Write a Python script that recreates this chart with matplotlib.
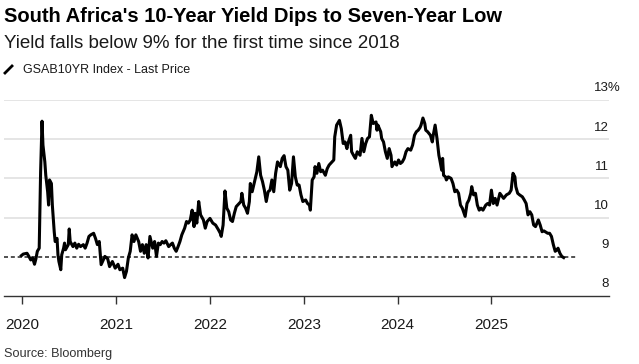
import matplotlib
matplotlib.use("Agg")
import matplotlib.pyplot as plt
from matplotlib.lines import Line2D

# ===============================
# DATA (decimal years)
# ===============================
years = [
    2019.99, 2020.01, 2020.05, 2020.07, 2020.09, 2020.11, 2020.13, 2020.145, 2020.16, 2020.18,
    2020.195, 2020.21, 2020.22, 2020.24, 2020.25, 2020.27, 2020.28, 2020.29, 2020.31, 2020.32,
    2020.34, 2020.35, 2020.37, 2020.38, 2020.39, 2020.41, 2020.42, 2020.44, 2020.45, 2020.46,
    2020.49, 2020.50, 2020.51, 2020.54, 2020.56, 2020.58, 2020.60, 2020.62, 2020.65, 2020.67,
    2020.69, 2020.71, 2020.73, 2020.76, 2020.78, 2020.80, 2020.82, 2020.84,
    2020.88, 2020.91, 2020.93, 2020.96, 2020.99, 2021.02, 2021.04, 2021.07, 2021.09, 2021.11,
    2021.13, 2021.15, 2021.17, 2021.19, 2021.21, 2021.24, 2021.26, 2021.28, 2021.30, 2021.32,
    2021.34, 2021.36, 2021.39, 2021.41, 2021.43, 2021.45, 2021.47, 2021.49, 2021.51, 2021.53,
    2021.56, 2021.58, 2021.60, 2021.62, 2021.64, 2021.66, 2021.68, 2021.70, 2021.73, 2021.75,
    2021.77, 2021.79, 2021.81, 2021.83, 2021.84, 2021.86, 2021.88, 2021.90, 2021.93, 2021.95,
    2021.97,
    2022.00, 2022.03, 2022.06, 2022.09, 2022.11, 2022.12, 2022.14, 2022.16, 2022.18, 2022.20,
    2022.22, 2022.24, 2022.26, 2022.28, 2022.31, 2022.33, 2022.34, 2022.36, 2022.38, 2022.40,
    2022.42, 2022.43, 2022.45, 2022.48, 2022.50, 2022.52, 2022.54, 2022.56, 2022.58, 2022.60,
    2022.62, 2022.64, 2022.66, 2022.68, 2022.70, 2022.72, 2022.75, 2022.77, 2022.79, 2022.81,
    2022.83, 2022.85, 2022.87, 2022.89, 2022.91, 2022.93, 2022.95, 2022.97, 2022.99, 2023.02,
    2023.04, 2023.06, 2023.07, 2023.09, 2023.11,
    2023.12, 2023.14, 2023.16, 2023.18, 2023.20, 2023.23, 2023.25, 2023.27, 2023.30, 2023.32,
    2023.33, 2023.35, 2023.38, 2023.40, 2023.42, 2023.44, 2023.46, 2023.47, 2023.50, 2023.51,
    2023.53, 2023.55, 2023.57, 2023.60, 2023.62, 2023.64, 2023.66, 2023.68, 2023.70, 2023.72,
    2023.74, 2023.77, 2023.78, 2023.79, 2023.82, 2023.83, 2023.85, 2023.87, 2023.89, 2023.91,
    2023.93, 2023.94, 2023.97, 2023.99, 2024.01, 2024.03, 2024.05, 2024.07, 2024.09, 2024.11,
    2024.14, 2024.16, 2024.18, 2024.20, 2024.22,
    2024.24, 2024.25, 2024.27, 2024.29, 2024.30, 2024.32, 2024.35, 2024.37, 2024.38, 2024.40,
    2024.41, 2024.42, 2024.44, 2024.45, 2024.47, 2024.48, 2024.49, 2024.51, 2024.52, 2024.54,
    2024.57, 2024.59, 2024.61, 2024.63, 2024.65, 2024.67, 2024.69, 2024.72, 2024.74, 2024.76,
    2024.78, 2024.79, 2024.81, 2024.83, 2024.85, 2024.87, 2024.89, 2024.91, 2024.94, 2024.96,
    2024.98, 2025.00, 2025.02, 2025.04, 2025.06,
    2025.09, 2025.13, 2025.16, 2025.19, 2025.21, 2025.23, 2025.25, 2025.26, 2025.28, 2025.30,
    2025.33, 2025.35, 2025.37, 2025.39, 2025.41, 2025.43, 2025.45, 2025.47, 2025.50, 2025.52,
    2025.54, 2025.56, 2025.58, 2025.60, 2025.62, 2025.64, 2025.66, 2025.68, 2025.70, 2025.71,
    2025.73, 2025.74, 2025.75, 2025.77,
]

yields = [
    9.03, 9.07, 9.09, 9.01, 8.92, 8.97, 8.81, 8.95, 9.14, 9.22,
    11.17, 12.46, 11.85, 11.42, 11.08, 10.66, 10.32, 10.96, 10.87, 10.32,
    9.64, 9.39, 9.47, 9.05, 8.88, 8.67, 9.05, 9.22, 9.35, 9.18,
    9.31, 9.71, 9.39, 9.26, 9.35, 9.22, 9.32, 9.26, 9.31, 9.22,
    9.35, 9.52, 9.56, 9.60, 9.47, 9.31, 9.39, 8.80,
    9.01, 8.95, 8.75, 8.88, 8.71, 8.81, 8.67, 8.71, 8.47, 8.63,
    8.97, 9.14, 9.56, 9.39, 9.56, 9.39, 9.14, 9.31, 9.09, 9.31,
    8.97, 9.52, 9.22, 9.39, 9.01, 9.35, 9.31, 9.39, 9.35, 9.41,
    9.26, 9.31, 9.35, 9.22, 9.14, 9.26, 9.39, 9.56, 9.73, 9.90,
    9.86, 9.94, 10.19, 9.77, 10.11, 9.86, 10.41, 10.07, 9.94, 9.73,
    9.90,
    9.98, 9.86, 9.81, 9.69, 9.60, 9.52, 9.81, 10.68, 10.24, 10.15,
    9.94, 9.90, 10.11, 10.28, 10.36, 10.41, 10.62, 10.32, 10.24, 10.11,
    10.41, 10.87, 10.66, 10.96, 11.17, 11.55, 11.08, 10.92, 10.70, 10.41,
    10.66, 10.70, 10.96, 10.66, 11.13, 11.42, 11.30, 11.51, 11.58, 11.30,
    11.21, 10.70, 10.87, 11.55, 11.04, 10.83, 10.83, 10.58, 10.41, 10.45,
    10.36, 10.32, 10.19, 10.96, 11.04,
    11.30, 11.13, 11.38, 11.17, 11.21, 11.08, 11.25, 11.34, 11.42, 11.47,
    12.06, 12.36, 12.48, 12.27, 11.89, 11.93, 11.76, 11.89, 12.10, 11.68,
    11.59, 11.51, 11.68, 11.59, 12.02, 11.68, 11.89, 12.02, 12.06, 12.61,
    12.40, 12.44, 12.23, 12.36, 12.19, 12.02, 11.93, 11.68, 11.51, 11.76,
    11.59, 11.30, 11.42, 11.34, 11.47, 11.38, 11.42, 11.51, 11.68, 11.76,
    11.72, 11.85, 12.10, 12.19, 12.23,
    12.30, 12.36, 12.54, 12.40, 12.23, 12.19, 12.10, 11.93, 12.10, 12.36,
    12.19, 12.02, 11.59, 11.47, 11.21, 11.51, 11.08, 11.04, 10.96, 11.04,
    11.00, 10.87, 10.66, 10.70, 10.62, 10.32, 10.24, 10.03, 10.36, 10.45,
    10.62, 10.79, 10.58, 10.62, 10.32, 10.19, 10.24, 10.19, 10.32, 10.36,
    10.32, 10.70, 10.36, 10.49, 10.32,
    10.62, 10.49, 10.58, 10.62, 10.70, 11.13, 11.04, 10.79, 10.62, 10.58,
    10.53, 10.45, 10.36, 10.07, 10.15, 10.07, 9.81, 9.77, 9.94, 9.81,
    9.64, 9.66, 9.63, 9.60, 9.60, 9.52, 9.31, 9.14, 9.18, 9.22,
    9.09, 9.05, 9.01, 8.98,
]

year_ticks = [2020, 2021, 2022, 2023, 2024, 2025]
year_labels = ["2020", "2021", "2022", "2023", "2024", "2025"]
y_levels = [8, 9, 10, 11, 12, 13]
threshold = 9

# ===============================
# STYLE
# ===============================
plt.rcParams["font.family"] = ["Liberation Sans", "DejaVu Sans"]
TXT = "#1a1a1a"
GRID = "#e0e0e0"

fig = plt.figure(figsize=(6.39, 3.64), dpi=100)
ax = fig.add_axes([0.0063, 0.1868, 0.947, 0.5385])

x_left, x_right = 2019.805, 2026.255
ax.set_xlim(x_left, x_right)
ax.set_ylim(8, 13)

# gridlines (none at 9, the dashed line sits there)
for v in y_levels[2:]:
    ax.axhline(v, color=GRID, linewidth=1.2, zorder=1)

ax.hlines(threshold, x_left, 2025.92, colors="#333333", linestyles=(0, (2.4, 1.7)),
          linewidth=1.2, zorder=2)

ax.plot(years, yields, color="black", linewidth=2.2, solid_joinstyle="round", zorder=3)

# right-hand value labels, sitting above each level; top one carries the % sign
for v in y_levels:
    label = f"{v}%" if v == y_levels[-1] else str(v)
    shift = 8.4 if v == y_levels[-1] else 0
    ax.annotate(label, xy=(x_right, v), xytext=(shift, 4), textcoords="offset points",
                ha="right", va="bottom", fontsize=9.5, color=TXT)

for s in ["top", "left", "right"]:
    ax.spines[s].set_visible(False)
ax.spines["bottom"].set_color("#333333")
ax.spines["bottom"].set_linewidth(1.0)

ax.set_yticks([])
ax.set_xticks(year_ticks)
ax.set_xticklabels(year_labels)
ax.tick_params(axis="x", direction="out", length=6, width=1.0, color="#333333",
               pad=10, labelsize=11, labelcolor=TXT)

# ===============================
# HEADER / FOOTER
# ===============================
fig.text(0.0063, 1 - 17 / 364, "South Africa's 10-Year Yield Dips to Seven-Year Low",
         fontsize=14.5, fontweight="bold", color="black", va="center", ha="left")
fig.text(0.0063, 1 - 44 / 364, "Yield falls below 9% for the first time since 2018",
         fontsize=13.5, color=TXT, va="center", ha="left")

fig.add_artist(Line2D([5 / 639, 12 / 639], [1 - 73 / 364, 1 - 66 / 364],
                      color="black", linewidth=2.0, transform=fig.transFigure))
fig.text(23 / 639, 1 - 70 / 364, "GSAB10YR Index - Last Price",
         fontsize=9.0, color=TXT, va="center", ha="left")

fig.text(0.0063, 1 - 354 / 364, "Source: Bloomberg", fontsize=9.1, color="#333333",
         va="center", ha="left")

fig.savefig("out.png", dpi=100)
